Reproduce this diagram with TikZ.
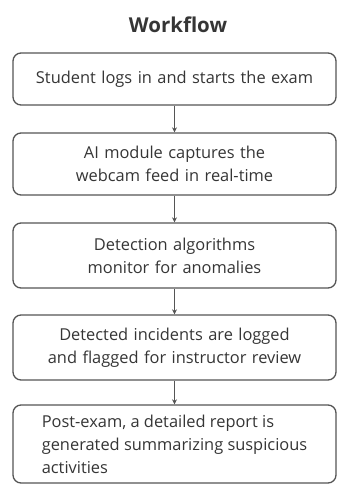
\documentclass[tikz,border=0pt]{standalone}
\usepackage{fontspec}
\setmainfont{Open Sans}
\usetikzlibrary{arrows.meta}
\definecolor{edge}{HTML}{555555}
\definecolor{txt}{HTML}{353535}
\begin{document}
\begin{tikzpicture}[x=1pt,y=-1pt,
  stepbox/.style={draw=edge, line width=1.3pt, rounded corners=8pt, minimum width=323pt,
    text width=310pt, align=center, text=txt, font=\fontsize{16.4}{23}\selectfont, inner sep=0pt},
  flow/.style={draw=edge, line width=1pt, -{Stealth[length=5pt,width=5pt]}}]
\useasboundingbox (0,0) rectangle (338,488);
\node[font=\bfseries\fontsize{20.5}{22}\selectfont, text=txt] (title) at (178,25) {Workflow};
\node[stepbox, minimum height=52pt] (s1) at (174.5,79) {Student logs in and starts the exam};
\node[stepbox, minimum height=62pt] (s2) at (174.5,164) {AI module captures the\\webcam feed in real-time};
\node[stepbox, minimum height=65pt] (s3) at (174.5,255.5) {Detection algorithms\\monitor for anomalies};
\node[stepbox, minimum height=65pt] (s4) at (174.5,347.5) {Detected incidents are logged\\and flagged for instructor review};
\node[stepbox, minimum height=78pt, text width=, align=left] (s5) at (174.5,444) {Post-exam, a detailed report is\\generated summarizing suspicious\\activities};
\draw[flow] (s1) -- (s2);
\draw[flow] (s2) -- (s3);
\draw[flow] (s3) -- (s4);
\draw[flow] (s4) -- (s5);
\end{tikzpicture}
\end{document}
